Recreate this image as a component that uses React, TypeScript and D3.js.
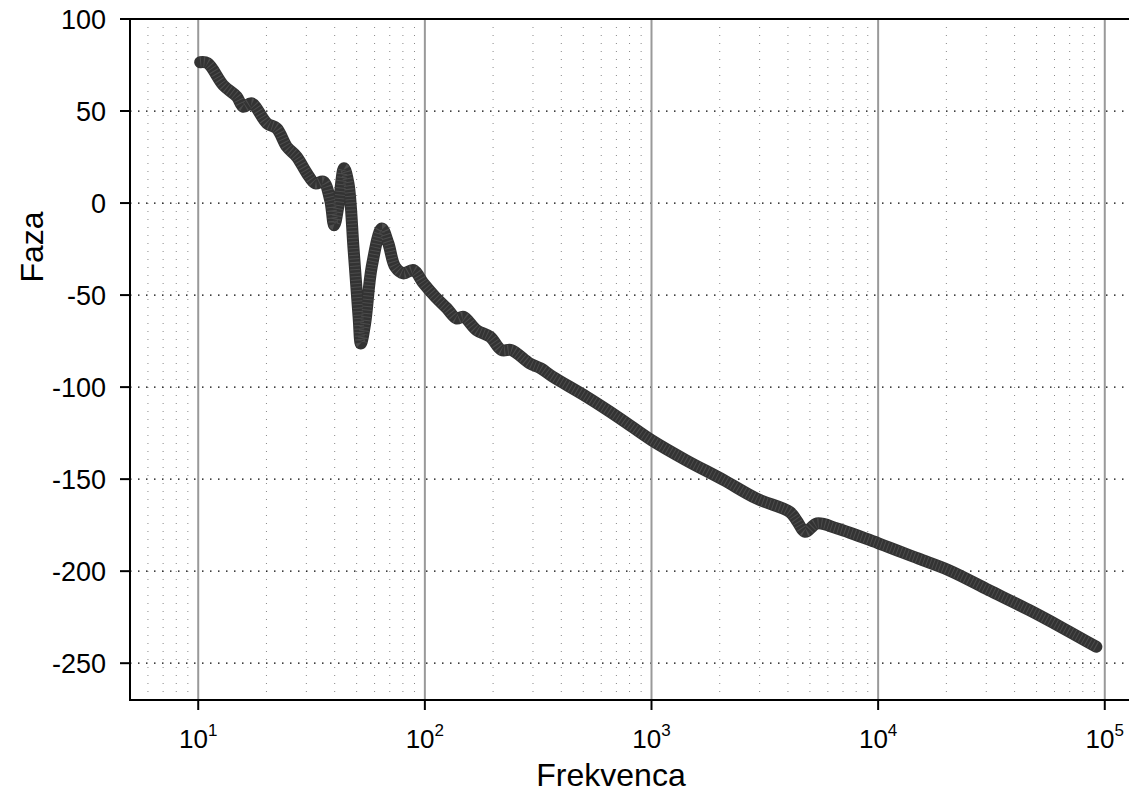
import React from "react";
import * as d3 from "d3";

// frequency (Hz) and phase (deg)
const freq = [10.2, 11, 12.9, 14.8, 15.8, 17.2, 20.1, 22.2, 24.6, 27.2, 30.2, 32.8, 35.7, 38.2, 39.8, 41.5, 44, 46, 48.5, 51, 52.2, 54.5, 58.3, 64.6, 69, 73.9, 80.4, 89, 98.6, 111, 125, 138, 148, 169, 194, 218, 241, 290, 324, 367, 518, 726, 1000, 1420, 2080, 2900, 4070, 4360, 4770, 5370, 6600, 10100, 15000, 20500, 30800, 46500, 65700, 91800];
const phase = [76.5, 76, 64, 57.8, 52.3, 54.2, 43.3, 40.6, 30.6, 25.2, 16.1, 10.7, 11.6, 1.6, -12, -2, 18.9, 10.7, -25.5, -61.8, -76.3, -65.4, -34.6, -13.8, -21.9, -34.6, -38.2, -36.4, -43.6, -50.9, -57.2, -62.7, -61.8, -69, -72.7, -79.9, -79.9, -87.1, -89.8, -94.4, -105.3, -117, -128.8, -139.7, -150.5, -160.5, -167.8, -172.3, -178.6, -174.1, -176.8, -185, -193.1, -199.5, -210.3, -221.2, -231.1, -241.1];

const yTicks = [-250, -200, -150, -100, -50, 0, 50, 100];
const xDecades = [1, 2, 3, 4, 5];

export default function App() {
  const width = 1129;
  const height = 793;
  const left = 130, top = 19, bottom = 700, right = 1173;

  const x = d3.scaleLog().domain([5, 2e5]).range([left, right]);
  const y = d3.scaleLinear().domain([-270, 100]).range([bottom, top]);

  const minors: number[] = [];
  for (let n = 0; n <= 4; n++) {
    for (let k = 2; k <= 9; k++) {
      const v = k * Math.pow(10, n);
      if (v > 5 && v < 2e5) minors.push(v);
    }
  }

  const pts = freq.map((f, i) => [f, phase[i]] as [number, number]);
  const line = d3
    .line<[number, number]>()
    .x(d => x(d[0]))
    .y(d => y(d[1]))
    .curve(d3.curveCatmullRom.alpha(0.5));
  const path = line(pts) || "";

  const font = "'Liberation Sans', Arial, sans-serif";

  return (
    <div style={{ position: "absolute", left: 0, top: 0 }}>
      <svg width={width} height={height} style={{ display: "block", background: "#fff" }}>
        {/* minor vertical grid */}
        {minors.map(v => (
          <line key={"m" + v} x1={x(v)} x2={x(v)} y1={top} y2={bottom}
            stroke="#888" strokeWidth={1} strokeDasharray="1 7" />
        ))}
        {/* horizontal grid */}
        {yTicks.filter(t => t < 100).map(t => (
          <line key={"h" + t} x1={left} x2={right} y1={y(t)} y2={y(t)}
            stroke="#000" strokeWidth={1.3} strokeDasharray="1.5 6.5" />
        ))}
        {/* major vertical grid */}
        {xDecades.map(n => (
          <line key={"d" + n} x1={x(Math.pow(10, n))} x2={x(Math.pow(10, n))} y1={top} y2={bottom}
            stroke="#999" strokeWidth={2} />
        ))}

        {/* data */}
        <path d={path} fill="none" stroke="#333" strokeWidth={12}
          strokeLinejoin="round" strokeLinecap="round" />
        <path d={path} fill="none" stroke="#666" strokeWidth={10}
          strokeDasharray="1 2.5" opacity={0.5} />

        {/* axes box */}
        <line x1={left} x2={left} y1={top} y2={bottom} stroke="#000" strokeWidth={2} />
        <line x1={left} x2={right} y1={top} y2={top} stroke="#000" strokeWidth={2} />
        <line x1={left - 1} x2={right} y1={bottom} y2={bottom} stroke="#000" strokeWidth={2} />

        {/* y ticks */}
        {yTicks.map(t => (
          <g key={"yt" + t}>
            <line x1={left - 10} x2={left} y1={y(t)} y2={y(t)} stroke="#000" strokeWidth={2} />
            <text x={left - 24} y={y(t)} dy="0.36em" textAnchor="end"
              fontFamily={font} fontSize={27} fill="#000">{t}</text>
          </g>
        ))}

        {/* x ticks */}
        {xDecades.map(n => (
          <g key={"xt" + n}>
            <line x1={x(Math.pow(10, n))} x2={x(Math.pow(10, n))} y1={bottom} y2={bottom + 10}
              stroke="#000" strokeWidth={2} />
            <text x={x(Math.pow(10, n))} y={748} textAnchor="middle"
              fontFamily={font} fontSize={26} fill="#000">
              10<tspan fontSize={17} dy={-12}>{n}</tspan>
            </text>
          </g>
        ))}

        {/* axis labels */}
        <text x={611} y={786} textAnchor="middle" fontFamily={font} fontSize={32} fill="#000">
          Frekvenca
        </text>
        <text transform="translate(43,247) rotate(-90)" textAnchor="middle"
          fontFamily={font} fontSize={32} fill="#000">
          Faza
        </text>
      </svg>
    </div>
  );
}
